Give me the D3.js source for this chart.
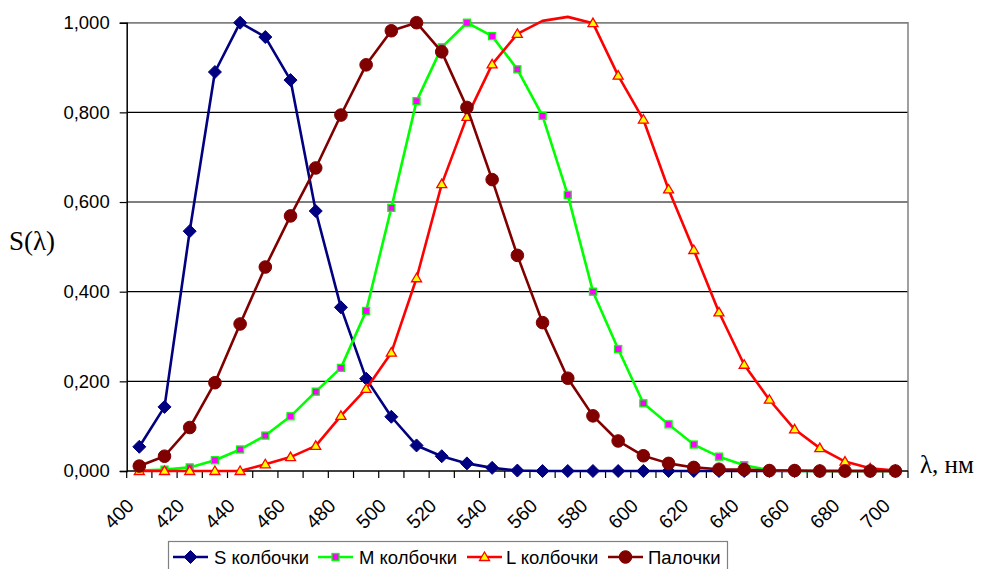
<!DOCTYPE html>
<html>
<head>
<meta charset="utf-8">
<script src="https://cdn.jsdelivr.net/npm/d3@7"></script>
<style>
  body { margin: 0; background: #fff; }
  svg { display: block; }
</style>
</head>
<body>
<svg width="982" height="569"></svg>
<script>
const wavelengths = [400, 410, 420, 430, 440, 450, 460, 470, 480, 490, 500, 510, 520, 530, 540, 550,
  560, 570, 580, 590, 600, 610, 620, 630, 640, 650, 660, 670, 680, 690, 700];

const sCones = [0.054, 0.143, 0.535, 0.890, 1.000, 0.968, 0.872, 0.580, 0.365, 0.206, 0.121, 0.057,
  0.033, 0.017, 0.007, 0.001, 0, 0, 0, 0, 0, 0, 0, 0, 0, 0, 0, 0, 0, 0, 0];
const mCones = [0.001, 0.003, 0.008, 0.024, 0.048, 0.079, 0.122, 0.177, 0.230, 0.357, 0.587, 0.825,
  0.945, 1.000, 0.970, 0.896, 0.792, 0.616, 0.400, 0.272, 0.151, 0.104, 0.059, 0.032, 0.013, 0.002,
  0, 0, 0, 0, 0];
const lCones = [0, 0, 0, 0, 0, 0.015, 0.031, 0.056, 0.123, 0.183, 0.264, 0.430, 0.640, 0.790, 0.907,
  0.975, 1.004, 1.013, 0.999, 0.882, 0.784, 0.628, 0.493, 0.354, 0.237, 0.159, 0.093, 0.051, 0.021,
  0.006, 0.001];
const rods = [0.011, 0.033, 0.097, 0.197, 0.328, 0.455, 0.569, 0.676, 0.794, 0.906, 0.982, 1.000,
  0.935, 0.811, 0.650, 0.481, 0.331, 0.207, 0.123, 0.067, 0.034, 0.017, 0.008, 0.004, 0.003, 0.001,
  0.001, 0, 0, 0, 0];

const seriesNames = ["S колбочки", "M колбочки", "L колбочки", "Палочки"];
const yTicks = [0, 0.2, 0.4, 0.6, 0.8, 1.0];

const series = [
  { name: seriesNames[0], values: sCones, stroke: "#000080", marker: "diamond", fill: "#000080", mstroke: "#000080" },
  { name: seriesNames[1], values: mCones, stroke: "#00ff00", marker: "square", fill: "#ff00ff", mstroke: "#00ff00" },
  { name: seriesNames[2], values: lCones, stroke: "#ff0000", marker: "triangle", fill: "#ffff00", mstroke: "#ff0000" },
  { name: seriesNames[3], values: rods, stroke: "#800000", marker: "circle", fill: "#800000", mstroke: "#800000" },
];

const plot = { left: 126.7, right: 908, top: 22.7, bottom: 471 };
const sansFont = "'Liberation Sans', Arial, sans-serif";
const serifFont = "'Liberation Serif', 'Times New Roman', serif";

const svg = d3.select("svg");

const xScale = d3.scaleBand().domain(wavelengths).range([plot.left, plot.right]).padding(0);
const yScale = d3.scaleLinear().domain([0, 1]).range([plot.bottom, plot.top]);
const cx = (w) => xScale(w) + xScale.bandwidth() / 2;

// gridlines
svg.append("g")
  .selectAll("line")
  .data(yTicks.slice(1))
  .enter()
  .append("line")
  .attr("x1", plot.left)
  .attr("x2", plot.right)
  .attr("y1", (d) => yScale(d))
  .attr("y2", (d) => yScale(d))
  .attr("stroke", "#000")
  .attr("stroke-width", 1.2);

// plot border (top and right)
svg.append("path")
  .attr("d", `M${plot.left},${plot.top}H${plot.right}V${plot.bottom}`)
  .attr("fill", "none")
  .attr("stroke", "#808080")
  .attr("stroke-width", 1.5);

// y axis
const yAxis = svg.append("g")
  .attr("transform", `translate(${plot.left},0)`)
  .call(d3.axisLeft(yScale).tickValues(yTicks).tickSize(7).tickPadding(10)
    .tickFormat((d) => d3.format(".3f")(d).replace(".", ",")));
yAxis.select(".domain").attr("stroke", "#000").attr("stroke-width", 1.5);
yAxis.selectAll(".tick line").attr("stroke", "#000").attr("stroke-width", 1.2);
yAxis.selectAll("text")
  .attr("font-family", sansFont)
  .attr("font-size", 18.5)
  .attr("fill", "#000");

// x axis: ticks at category boundaries
const bounds = wavelengths.map((w) => xScale(w)).concat([plot.right]);
const xAxis = svg.append("g");
xAxis.append("line")
  .attr("x1", plot.left).attr("x2", plot.right)
  .attr("y1", plot.bottom).attr("y2", plot.bottom)
  .attr("stroke", "#000").attr("stroke-width", 1.5);
xAxis.selectAll(".xtick")
  .data(bounds)
  .enter()
  .append("line")
  .attr("x1", (d) => d).attr("x2", (d) => d)
  .attr("y1", plot.bottom).attr("y2", plot.bottom + 7)
  .attr("stroke", "#000").attr("stroke-width", 1.2);
xAxis.selectAll(".xlabel")
  .data(wavelengths.filter((d, i) => i % 2 === 0))
  .enter()
  .append("text")
  .attr("transform", (d) => `translate(${cx(d) - 4},${plot.bottom + 36}) rotate(-45)`)
  .attr("text-anchor", "end")
  .attr("font-family", sansFont)
  .attr("font-size", 19.5)
  .attr("fill", "#000")
  .text((d) => d);

// axis titles
svg.append("text")
  .attr("x", 9)
  .attr("y", 250)
  .attr("font-family", serifFont)
  .attr("font-size", 27)
  .attr("fill", "#000")
  .text("S(λ)");

svg.append("text")
  .attr("x", 920)
  .attr("y", 473)
  .attr("font-family", serifFont)
  .attr("font-size", 25)
  .attr("fill", "#000")
  .text("λ, нм");

// marker drawing
function drawMarker(g, s, x, y) {
  if (s.marker === "diamond") {
    g.append("path")
      .attr("d", `M${x},${y - 6.5}L${x + 6.5},${y}L${x},${y + 6.5}L${x - 6.5},${y}Z`)
      .attr("fill", s.fill).attr("stroke", s.mstroke).attr("stroke-width", 1);
  } else if (s.marker === "square") {
    g.append("rect")
      .attr("x", x - 3.5).attr("y", y - 3.5).attr("width", 7).attr("height", 7)
      .attr("fill", s.fill).attr("stroke", s.mstroke).attr("stroke-width", 1.3);
  } else if (s.marker === "triangle") {
    g.append("path")
      .attr("d", `M${x},${y - 5}L${x + 5},${y + 3.5}L${x - 5},${y + 3.5}Z`)
      .attr("fill", s.fill).attr("stroke", s.mstroke).attr("stroke-width", 1.3);
  } else {
    g.append("circle")
      .attr("cx", x).attr("cy", y).attr("r", 6.3)
      .attr("fill", s.fill).attr("stroke", s.mstroke).attr("stroke-width", 1);
  }
}

const line = d3.line()
  .x((d) => cx(d.w))
  .y((d) => yScale(d.v));

for (const s of series) {
  const pts = wavelengths.map((w, i) => ({ w, v: s.values[i] }));
  const g = svg.append("g");
  g.append("path")
    .datum(pts)
    .attr("d", line)
    .attr("fill", "none")
    .attr("stroke", s.stroke)
    .attr("stroke-width", 2.6)
    .attr("stroke-linejoin", "round");
  // points above the axis maximum lose their markers, like the original
  for (const p of pts) {
    if (p.v > 1) continue;
    drawMarker(g, s, cx(p.w), yScale(p.v));
  }
}

// legend
const legendItems = [
  { lx: 173, tx: 214 },
  { lx: 318, tx: 359 },
  { lx: 467, tx: 506 },
  { lx: 608, tx: 648 },
];
const legend = svg.append("g");
legend.append("rect")
  .attr("x", 168.5).attr("y", 541.5).attr("width", 559).attr("height", 40)
  .attr("fill", "#fff").attr("stroke", "#808080").attr("stroke-width", 1.2);
const legendY = 557;
series.forEach((s, i) => {
  const it = legendItems[i];
  legend.append("line")
    .attr("x1", it.lx).attr("x2", it.lx + 35)
    .attr("y1", legendY).attr("y2", legendY)
    .attr("stroke", s.stroke).attr("stroke-width", 2.6);
  drawMarker(legend, s, it.lx + 17.5, legendY);
  legend.append("text")
    .attr("x", it.tx).attr("y", legendY + 6.5)
    .attr("font-family", sansFont)
    .attr("font-size", 18.5)
    .attr("fill", "#000")
    .text(s.name);
});
</script>
</body>
</html>
